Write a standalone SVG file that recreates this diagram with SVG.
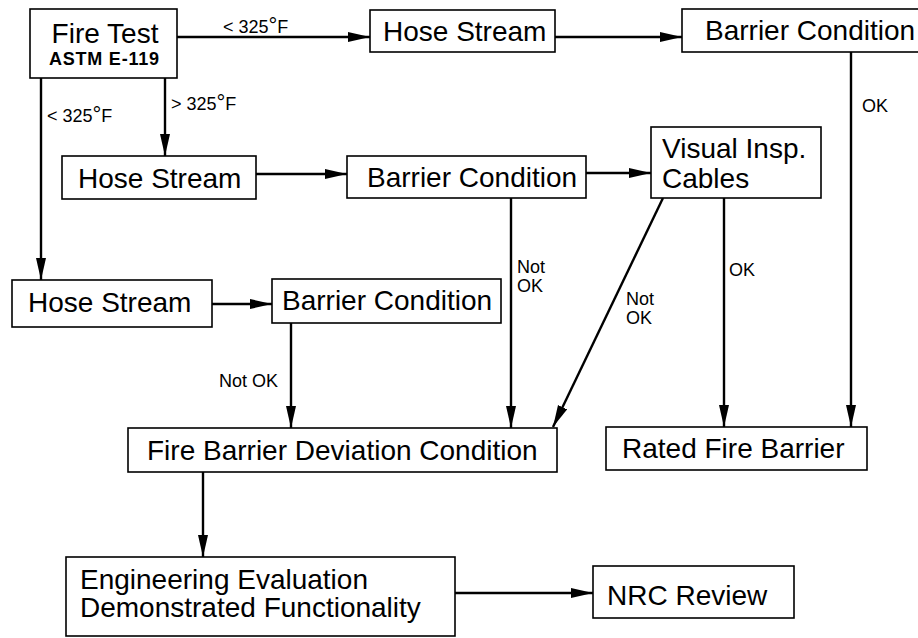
<svg xmlns="http://www.w3.org/2000/svg" width="918" height="638" viewBox="0 0 918 638">
<style>
.box{fill:#fff;stroke:#000;stroke-width:1.6}
.t{font-family:"Liberation Sans",Arial,sans-serif;font-size:28px;fill:#000}
.s{font-family:"Liberation Sans",Arial,sans-serif;font-size:18px;fill:#000}
.c{fill:none;stroke:#000;stroke-width:2.4;marker-end:url(#ah)}
</style>
<defs>
<marker id="ah" markerUnits="userSpaceOnUse" markerWidth="22" markerHeight="11" refX="22" refY="5.5" orient="auto">
<path d="M0,0.5 L22,5.5 L0,10.5 z" fill="#000"/>
</marker>
</defs>
<rect width="918" height="638" fill="#fff"/>
<g id="connectors">
<line class="c" x1="177" y1="37" x2="370" y2="37"/>
<line class="c" x1="555" y1="37" x2="682" y2="37"/>
<line class="c" x1="165" y1="78" x2="165" y2="156"/>
<line class="c" x1="41" y1="78" x2="41" y2="280"/>
<line class="c" x1="256" y1="174" x2="347" y2="174"/>
<line class="c" x1="586" y1="173" x2="651" y2="173"/>
<line class="c" x1="212" y1="304" x2="272" y2="304"/>
<line class="c" x1="291" y1="323" x2="291" y2="428"/>
<line class="c" x1="511" y1="198" x2="511" y2="428"/>
<line class="c" x1="663" y1="198" x2="553" y2="427"/>
<line class="c" x1="724" y1="198" x2="724" y2="427"/>
<line class="c" x1="851" y1="52" x2="851" y2="427"/>
<line class="c" x1="203" y1="472" x2="203" y2="557"/>
<line class="c" x1="455" y1="593" x2="593" y2="593"/>
<text class="s" x="223" y="33">&lt; 325<tspan font-size="22">°</tspan>F</text>
<text class="s" x="171" y="110">&gt; 325<tspan font-size="22">°</tspan>F</text>
<text class="s" x="47" y="122">&lt; 325<tspan font-size="22">°</tspan>F</text>
<text class="s" x="862" y="112">OK</text>
<text class="s" x="517" y="273">Not</text>
<text class="s" x="517" y="292">OK</text>
<text class="s" x="626" y="305">Not</text>
<text class="s" x="626" y="324">OK</text>
<text class="s" x="729" y="276">OK</text>
<text class="s" x="219" y="387">Not OK</text>
</g>
<g id="fire-test">
<rect class="box" x="30" y="9" width="147" height="69"/>
<text class="t" x="105" y="43" text-anchor="middle" font-size="30">Fire Test</text>
<text class="s" x="49" y="65" font-weight="bold" font-size="15" textLength="110" lengthAdjust="spacing">ASTM E-119</text>
</g>
<g id="hose-stream-1">
<rect class="box" x="370" y="10" width="185" height="42"/>
<text class="t" x="383" y="41">Hose Stream</text>
</g>
<g id="barrier-condition-1">
<rect class="box" x="682" y="9" width="245" height="43"/>
<text class="t" x="705" y="40">Barrier Condition</text>
</g>
<g id="hose-stream-2">
<rect class="box" x="62" y="156" width="194" height="43"/>
<text class="t" x="78" y="188">Hose Stream</text>
</g>
<g id="barrier-condition-2">
<rect class="box" x="347" y="156" width="239" height="42"/>
<text class="t" x="367" y="187">Barrier Condition</text>
</g>
<g id="visual-insp">
<rect class="box" x="651" y="127" width="170" height="71"/>
<text class="t" x="662" y="158">Visual Insp.</text>
<text class="t" x="662" y="188">Cables</text>
</g>
<g id="hose-stream-3">
<rect class="box" x="12" y="280" width="200" height="47"/>
<text class="t" x="28" y="312">Hose Stream</text>
</g>
<g id="barrier-condition-3">
<rect class="box" x="272" y="279" width="229" height="44"/>
<text class="t" x="282" y="310">Barrier Condition</text>
</g>
<g id="fire-barrier-deviation">
<rect class="box" x="128" y="428" width="429" height="44"/>
<text class="t" x="147" y="460">Fire Barrier Deviation Condition</text>
</g>
<g id="rated-fire-barrier">
<rect class="box" x="606" y="427" width="261" height="43"/>
<text class="t" x="622" y="458">Rated Fire Barrier</text>
</g>
<g id="engineering-evaluation">
<rect class="box" x="66" y="557" width="389" height="79"/>
<text class="t" x="80" y="589">Engineering Evaluation</text>
<text class="t" x="80" y="617">Demonstrated Functionality</text>
</g>
<g id="nrc-review">
<rect class="box" x="593" y="566" width="201" height="52"/>
<text class="t" x="607" y="605">NRC Review</text>
</g>
</svg>
